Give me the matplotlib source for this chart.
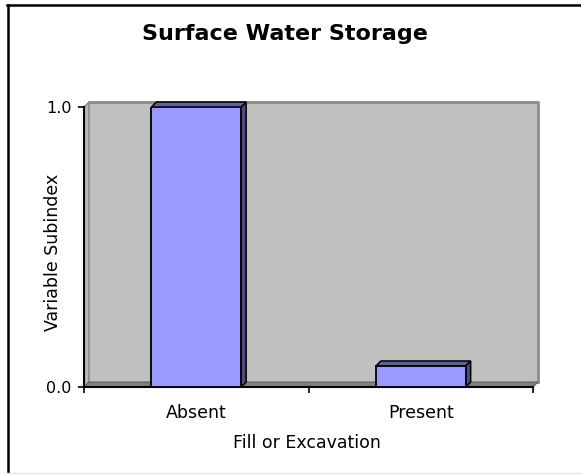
import matplotlib
matplotlib.use("Agg")
import matplotlib.pyplot as plt
import matplotlib.transforms as mtransforms
from matplotlib.patches import Polygon
from matplotlib.lines import Line2D

# data
categories = ["Absent", "Present"]
subindex = [1.0, 0.075]
y_ticks = [0.0, 1.0]
y_tick_labels = ["0.0", "1.0"]

W, H = 581, 475
DEPTH = 5  # pixel offset of the 3d back plane

plt.rcParams['font.family'] = ['DejaVu Sans']
fig = plt.figure(figsize=(W / 100, H / 100), dpi=100)
fig.patch.set_facecolor("white")


def px_rect(x0, y0, x1, y1):
    # pixel box (top-left origin) -> figure fraction
    return [x0 / W, 1 - y1 / H, (x1 - x0) / W, (y1 - y0) / H]


def fpx(x, y):
    return x / W, 1 - y / H


ax = fig.add_axes(px_rect(84, 107, 533, 387))
ax.set_facecolor("none")
ax.set_xlim(0, len(categories))
ax.set_ylim(0, 1)

ident = mtransforms.IdentityTransform()


def pt(x, y, back=False):
    X, Y = ax.transData.transform((x, y))
    if back:
        X, Y = X + DEPTH, Y + DEPTH
    return (X, Y)


x0, x1 = ax.get_xlim()
# back wall
wall = [pt(x0, 0, True), pt(x1, 0, True), pt(x1, 1, True), pt(x0, 1, True)]
ax.add_patch(Polygon(wall, closed=True, transform=ident, facecolor="#C0C0C0",
                     edgecolor="none", clip_on=False, zorder=0.5))
ax.add_line(Line2D([pt(x0, 1, True)[0], pt(x1, 1, True)[0], pt(x1, 0, True)[0]],
                   [pt(x0, 1, True)[1], pt(x1, 1, True)[1], pt(x1, 0, True)[1]],
                   transform=ident, color="#8C8C8C", lw=2, clip_on=False, zorder=0.6))
# left side wall
side = [pt(x0, 0), pt(x0, 1), pt(x0, 1, True), pt(x0, 0, True)]
ax.add_patch(Polygon(side, closed=True, transform=ident, facecolor="#B8B8B8",
                     edgecolor="#707070", lw=0.8, clip_on=False, zorder=0.55))
# floor
floor = [pt(x0, 0), pt(x1, 0), pt(x1, 0, True), pt(x0, 0, True)]
ax.add_patch(Polygon(floor, closed=True, transform=ident, facecolor="#808080",
                     edgecolor="#606060", lw=0.8, clip_on=False, zorder=0.7))

# bars
xs = [i + 0.5 for i in range(len(categories))]
bars = ax.bar(xs, subindex, width=0.4, color="#9999FF", edgecolor="black",
              linewidth=1.3, zorder=3)
for b in bars:
    l, r = b.get_x(), b.get_x() + b.get_width()
    h = b.get_height()
    top = [pt(l, h), pt(r, h), pt(r, h, True), pt(l, h, True)]
    sidef = [pt(r, 0), pt(r, h), pt(r, h, True), pt(r, 0, True)]
    ax.add_patch(Polygon(sidef, closed=True, transform=ident, facecolor="#4D4D80",
                         edgecolor="black", lw=1.1, clip_on=False, zorder=2.8))
    ax.add_patch(Polygon(top, closed=True, transform=ident, facecolor="#60609A",
                         edgecolor="black", lw=1.1, clip_on=False, zorder=2.9))

# axes styling
for s in ["top", "right"]:
    ax.spines[s].set_visible(False)
for s in ["left", "bottom"]:
    ax.spines[s].set_color("black")
    ax.spines[s].set_linewidth(1.5)

ax.set_yticks(y_ticks, y_tick_labels)
ax.set_xticks(xs, categories)
ax.set_xticks(range(len(categories) + 1), minor=True)
ax.tick_params(axis="y", length=4, width=1.2, pad=5, labelsize=11.5)
ax.tick_params(axis="x", which="major", length=0, pad=12, labelsize=12.5)
ax.tick_params(axis="x", which="minor", length=4, width=1.2)

# titles
fig.text(*fpx(285, 40), "Surface Water Storage", ha="center", va="baseline",
         fontsize=16, fontweight="bold")
fig.text(*fpx(307, 443), "Fill or Excavation", ha="center", va="center", fontsize=12.5)
fig.text(*fpx(53, 252), "Variable Subindex", ha="center", va="center",
         rotation=90, fontsize=12.5)

# outer chart frame
fig.add_artist(Line2D([fpx(7.5, 0)[0], fpx(7.5, 0)[0]], [fpx(0, 5)[1], fpx(0, 472)[1]],
                      color="black", lw=1.8))
fig.add_artist(Line2D([fpx(7, 0)[0], 1], [fpx(0, 4.5)[1], fpx(0, 4.5)[1]],
                      color="black", lw=1.8))
fig.add_artist(Line2D([fpx(7, 0)[0], 1], [fpx(0, 473)[1], fpx(0, 473)[1]],
                      color="#E6E6E6", lw=1))

fig.savefig("out.png", dpi=100)
